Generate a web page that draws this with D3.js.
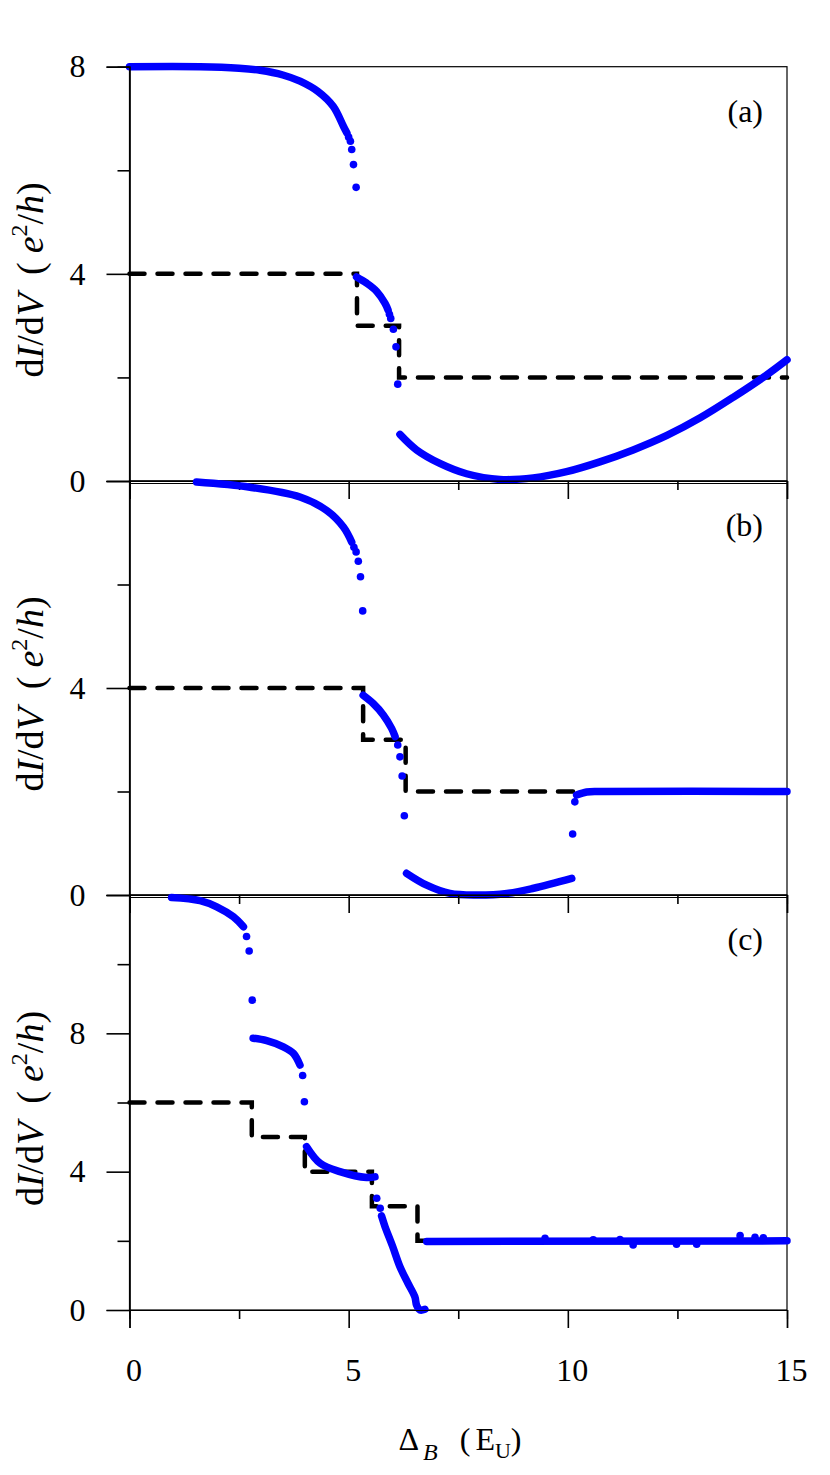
<!DOCTYPE html>
<html>
<head>
<meta charset="utf-8">
<script src="https://cdnjs.cloudflare.com/ajax/libs/d3/7.8.5/d3.min.js"></script>
<style>
  body { margin: 0; background: #fff; }
  text { font-family: "Liberation Serif", "Times New Roman", serif; fill: #000; }
</style>
</head>
<body>
<div id="chart"></div>
<script>
// x axis (shared)
const xMajor = [0, 5, 10, 15]
const xMinor = [2.5, 7.5, 12.5]

// panel (a)
const aStepX = [0, 5.19, 6.15, 15]
const aStepY = [4, 3, 2, 2]
const aCurve1 = [[0, 8], [1.61, 8], [2.5, 7.97], [2.98, 7.93], [3.5, 7.84], [3.89, 7.72], [4.3, 7.52], [4.65, 7.23], [4.88, 6.85], [4.96, 6.72]]
const aDots1 = [[5.0, 6.64], [5.04, 6.56], [5.07, 6.40], [5.11, 6.11], [5.17, 5.67]]
const aCurve2 = [[5.18, 3.94], [5.41, 3.82], [5.64, 3.66], [5.83, 3.43], [5.90, 3.30]]
const aDots2 = [[5.93, 3.22], [5.96, 3.14], [6.02, 2.93], [6.08, 2.59], [6.12, 1.87]]
const aCurve3 = [[6.17, 0.90], [6.55, 0.60], [7.08, 0.34], [7.69, 0.14], [8.45, 0.03], [9.21, 0.06],
                 [9.97, 0.18], [10.73, 0.37], [11.49, 0.60], [12.26, 0.88], [13.02, 1.22],
                 [13.78, 1.62], [14.54, 2.05], [15, 2.34]]

// panel (b)
const bStepX = [0, 5.33, 6.30, 15]
const bStepY = [4, 3, 2, 2]
const bCurve1 = [[1.53, 7.98], [2.75, 7.88], [3.89, 7.69], [4.50, 7.43], [4.88, 7.11], [5.07, 6.82]]
const bDots1 = [[5.12, 6.72], [5.17, 6.63], [5.22, 6.45], [5.27, 6.15], [5.32, 5.49]]
const bCurve2 = [[5.33, 3.86], [5.56, 3.70], [5.79, 3.48], [5.98, 3.22], [6.06, 3.06]]
const bDots2 = [[6.12, 2.90], [6.17, 2.67], [6.22, 2.30], [6.27, 1.53]]
const bCurve3 = [[6.32, 0.42], [6.78, 0.19], [7.31, 0.03], [7.92, 0.0], [8.61, 0.03], [9.22, 0.13], [10.09, 0.32]]
const bDots3 = [[10.11, 1.18], [10.16, 1.80]]
const bCurve4 = [[10.20, 1.93], [10.43, 1.99], [10.73, 2.0], [15, 2.0]]

// panel (c)
const cStepX = [0, 2.79, 4.0, 5.53, 6.57, 15]
const cStepY = [6, 5, 4, 3, 2, 2]
const cCurve1 = [[0.96, 11.93], [1.61, 11.84], [1.99, 11.66], [2.37, 11.37], [2.60, 11.08]]
const cDots1 = [[2.67, 10.80], [2.73, 10.38], [2.80, 8.96]]
const cCurve2 = [[2.82, 7.86], [3.13, 7.79], [3.51, 7.61], [3.74, 7.42], [3.89, 7.08]]
const cDots2 = [[3.95, 6.78], [3.99, 6.02]]
const cCurve3 = [[4.04, 4.72], [4.35, 4.24], [4.80, 4.0], [5.41, 3.83], [5.60, 3.85]]
const cDots3 = [[5.64, 3.23], [5.72, 2.94]]
const cCurve4 = [[5.75, 2.72], [5.83, 2.41], [6.0, 1.85], [6.17, 1.25], [6.35, 0.78], [6.51, 0.38], [6.55, 0.14], [6.63, 0.0], [6.74, 0.02]]
const cCurve5 = [[6.78, 1.98], [15, 2.0]]
const cDots5 = [[9.48, 2.07], [10.58, 2.03], [11.19, 2.04], [11.49, 1.88], [12.48, 1.9],
                [12.94, 1.9], [13.93, 2.15], [14.27, 2.10], [14.46, 2.09]]

const blue = "#0000ff"

const svg = d3.select("#chart")
    .append("svg")
    .attr("width", 830)
    .attr("height", 1475)

const x = d3.scaleLinear().domain([0, 15]).range([129.5, 787])

const panels = [
    {name: "(a)", top: 66.7, bottom: 481, yMax: 8, yMajor: [0, 4, 8], yMinor: [2, 6], yLabels: [0, 4, 8],
     stepX: aStepX, stepY: aStepY, curves: [aCurve1, aCurve2, aCurve3], dots: [aDots1, aDots2]},
    {name: "(b)", top: 481, bottom: 895, yMax: 8, yMajor: [0, 4, 8], yMinor: [2, 6], yLabels: [0, 4],
     stepX: bStepX, stepY: bStepY, curves: [bCurve1, bCurve2, bCurve3, bCurve4], dots: [bDots1, bDots2, bDots3]},
    {name: "(c)", top: 895, bottom: 1310, yMax: 12, yMajor: [0, 4, 8, 12], yMinor: [2, 6, 10], yLabels: [0, 4, 8],
     stepX: cStepX, stepY: cStepY, curves: [cCurve1, cCurve2, cCurve3, cCurve4, cCurve5], dots: [cDots1, cDots2, cDots3, cDots5]}
]

panels.forEach(function (p, i) {
    const y = d3.scaleLinear().domain([0, p.yMax]).range([p.bottom, p.top])
    const g = svg.append("g")

    // Rahmen
    g.append("rect")
        .attr("x", x(0)).attr("y", p.top)
        .attr("width", x(15) - x(0)).attr("height", p.bottom - p.top)
        .attr("fill", "none").attr("stroke", "#000").attr("stroke-width", 1.2)
    if (i > 0) {
        g.append("line")
            .attr("x1", x(0)).attr("x2", x(15))
            .attr("y1", p.top + 2.5).attr("y2", p.top + 2.5)
            .attr("stroke", "#000").attr("stroke-width", 1)
    }

    // gestrichelte Stufenlinie
    const step = d3.line()
        .x(d => x(d[0])).y(d => y(d[1]))
        .curve(d3.curveStepAfter)
    g.append("path")
        .datum(d3.zip(p.stepX, p.stepY))
        .attr("d", step)
        .attr("fill", "none").attr("stroke", "#000")
        .attr("stroke-width", 4.5).attr("stroke-dasharray", "15 13")
        .attr("stroke-linecap", "round")

    // dichte Punktfolgen als dicke Linie
    const curve = d3.line()
        .x(d => x(d[0])).y(d => y(d[1]))
        .curve(d3.curveCatmullRom)
    p.curves.forEach(function (c) {
        g.append("path")
            .datum(c)
            .attr("d", curve)
            .attr("fill", "none").attr("stroke", blue)
            .attr("stroke-width", 7.5)
            .attr("stroke-linecap", "round").attr("stroke-linejoin", "round")
    })

    // einzelne Punkte
    p.dots.forEach(function (ds) {
        g.selectAll(null)
            .data(ds)
            .enter().append("circle")
            .attr("cx", d => x(d[0])).attr("cy", d => y(d[1]))
            .attr("r", 3.8).attr("fill", blue)
    })

    // y-Achse
    const yAx = g.append("g")
        .attr("transform", "translate(" + x(0) + ",0)")
        .call(d3.axisLeft(y).tickValues(p.yMajor).tickSize(23).tickPadding(21)
            .tickFormat(d => p.yLabels.includes(d) ? d : ""))
    yAx.append("g").call(d3.axisLeft(y).tickValues(p.yMinor).tickSize(12).tickFormat(""))
    yAx.selectAll(".domain").attr("stroke-width", 1.2)
    yAx.selectAll(".tick line").attr("stroke-width", 1.6)
    yAx.selectAll("text").attr("font-size", 32)

    // x-Achse
    const last = i === panels.length - 1
    const xAx = g.append("g")
        .attr("transform", "translate(0," + p.bottom + ")")
        .call(d3.axisBottom(x).tickValues(xMajor).tickSize(18).tickPadding(30)
            .tickFormat(d => last ? d : ""))
    xAx.append("g").call(d3.axisBottom(x).tickValues(xMinor).tickSize(9).tickFormat(""))
    xAx.selectAll(".domain").attr("stroke-width", 1.2)
    xAx.selectAll(".tick line").attr("stroke-width", 1.6)
    xAx.selectAll("text").attr("font-size", 32).attr("dx", 4)

    // Panelbeschriftung
    g.append("text")
        .attr("x", 763).attr("y", p.top + 55)
        .attr("text-anchor", "end").attr("font-size", 32)
        .text(p.name)

    // y-Beschriftung
    const yl = g.append("text")
        .attr("transform", "translate(43," + ((p.top + p.bottom) / 2 + 6) + ") rotate(-90)")
        .attr("text-anchor", "middle").attr("font-size", 38)
    yl.append("tspan").text("d")
    yl.append("tspan").attr("font-style", "italic").text("I")
    yl.append("tspan").text("/d")
    yl.append("tspan").attr("font-style", "italic").text("V")
    yl.append("tspan").attr("dx", 18).text("(")
    yl.append("tspan").attr("dx", 9).attr("font-style", "italic").text("e")
    yl.append("tspan").attr("font-size", 24).attr("dy", -16).text("2")
    yl.append("tspan").attr("dy", 16).text("/")
    yl.append("tspan").attr("font-style", "italic").text("h")
    yl.append("tspan").text(")")
})

// x-Titel
const xt = svg.append("text")
    .attr("x", 460).attr("y", 1450)
    .attr("text-anchor", "middle").attr("font-size", 32)
xt.append("tspan").text("\u0394")
xt.append("tspan").attr("font-size", 24).attr("font-style", "italic").attr("dx", 4).attr("dy", 10).text("B")
xt.append("tspan").attr("dx", 22).attr("dy", -10).text("(")
xt.append("tspan").attr("dx", 5).text("E")
xt.append("tspan").attr("font-size", 22).attr("dy", 8).text("U")
xt.append("tspan").attr("dy", -8).text(")")
</script>
</body>
</html>
